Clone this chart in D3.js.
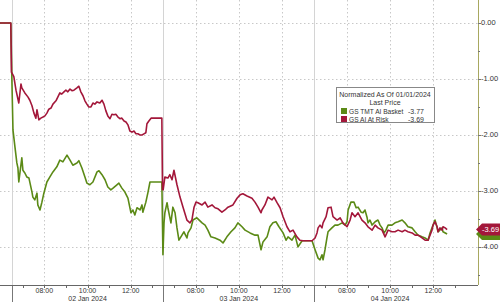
<!DOCTYPE html>
<html>
<head>
<meta charset="utf-8">
<script src="https://d3js.org/d3.v7.min.js"></script>
<style>
  body { margin: 0; background: #fff; }
  svg { display: block; font-family: "Liberation Sans", Arial, sans-serif; }
</style>
</head>
<body>
<svg id="chart" width="500" height="302"></svg>
<script>
// x values are trading hours counted from 02 Jan 06:30, each session 7 hours long
const days = ["02 Jan 2024", "03 Jan 2024", "04 Jan 2024"];
const timeLabels = ["08:00", "10:00", "12:00"];
const sessionStart = 6.5;
const sessionLength = 7;
const yTicks = [0, -1, -2, -3, -4];

const seriesNames = ["GS TMT AI Basket", "GS AI At Risk"];
const lastValues = [-3.77, -3.69];
const colors = ["#5b8a16", "#a3173a"];

const basketT = [-0.55, -0.05, 0.0, 0.05, 0.14, 0.23, 0.28, 0.32, 0.46, 0.51, 0.60, 0.69, 0.79, 0.93, 0.97, 1.06, 1.16, 1.20, 1.30, 1.39, 1.48, 1.62, 1.76, 1.90, 2.08, 2.22, 2.36, 2.55, 2.69, 2.82, 3.01, 3.10, 3.24, 3.38, 3.47, 3.61, 3.75, 3.94, 4.03, 4.17, 4.31, 4.44, 4.58, 4.68, 4.86, 4.95, 5.09, 5.23, 5.37, 5.51, 5.60, 5.69, 5.79, 5.93, 6.02, 6.06, 6.20, 6.30, 6.39, 6.94,
  6.99, 7.04, 7.08, 7.18, 7.22, 7.36, 7.45, 7.55, 7.64, 7.73, 7.87, 7.96, 8.10, 8.15, 8.29, 8.38, 8.56, 8.80, 8.94, 9.07, 9.21, 9.40, 9.63, 9.77, 9.95, 10.14, 10.32, 10.46, 10.65, 10.79, 11.02, 11.25, 11.39, 11.53, 11.62, 11.81, 11.94, 12.08, 12.22, 12.36, 12.55, 12.69, 12.78, 12.96, 13.10, 13.24, 13.43, 13.89,
  14.03, 14.17, 14.26, 14.35, 14.40, 14.49, 14.58, 14.63, 14.81, 14.95, 15.09, 15.28, 15.42, 15.51, 15.56, 15.69, 15.83, 15.93, 16.02, 16.16, 16.25, 16.34, 16.44, 16.48, 16.57, 16.67, 16.81, 16.94, 17.04, 17.13, 17.22, 17.31, 17.41, 17.59, 17.73, 17.87, 18.06, 18.19, 18.33, 18.52, 18.66, 18.80, 18.98, 19.12, 19.26, 19.35, 19.49, 19.58, 19.68, 19.72, 19.91, 19.95, 20.14];
const basketV = [0, 0, -1.02, -1.91, -2.21, -2.50, -2.59, -2.84, -2.41, -2.63, -2.68, -2.75, -2.77, -3.02, -3.11, -3.16, -3.04, -3.25, -3.34, -3.20, -3.04, -2.84, -2.75, -2.66, -2.57, -2.45, -2.48, -2.36, -2.45, -2.54, -2.50, -2.46, -2.59, -2.75, -2.86, -2.89, -2.84, -2.66, -2.64, -2.71, -2.80, -2.93, -2.98, -2.95, -2.89, -2.86, -2.95, -3.02, -3.13, -3.39, -3.34, -3.43, -3.30, -3.34, -3.25, -3.38, -3.20, -3.02, -2.84, -2.84,
  -4.14, -3.57, -3.39, -3.21, -3.30, -3.57, -3.29, -3.39, -3.66, -3.88, -3.79, -3.73, -3.84, -3.75, -3.66, -3.52, -3.48, -3.57, -3.61, -3.70, -3.82, -3.84, -3.88, -3.93, -3.82, -3.73, -3.66, -3.57, -3.64, -3.70, -3.75, -3.79, -3.79, -4.05, -3.91, -3.82, -3.64, -3.57, -3.55, -3.64, -3.75, -3.88, -3.82, -3.88, -3.79, -4.00, -3.89, -3.89,
  -4.05, -4.20, -4.23, -4.14, -4.23, -4.05, -3.84, -3.73, -3.66, -3.61, -3.61, -3.57, -3.61, -3.55, -3.34, -3.20, -3.20, -3.30, -3.29, -3.38, -3.39, -3.34, -3.48, -3.57, -3.52, -3.61, -3.55, -3.52, -3.61, -3.66, -3.75, -3.70, -3.61, -3.61, -3.57, -3.55, -3.52, -3.57, -3.64, -3.66, -3.73, -3.79, -3.82, -3.84, -3.88, -3.75, -3.61, -3.52, -3.66, -3.73, -3.66, -3.73, -3.77];

const riskT = [-0.55, -0.05, -0.02, 0.0, 0.09, 0.19, 0.32, 0.42, 0.46, 0.60, 0.74, 0.83, 0.93, 1.02, 1.11, 1.16, 1.25, 1.34, 1.44, 1.53, 1.62, 1.71, 1.81, 1.90, 2.04, 2.13, 2.22, 2.31, 2.41, 2.50, 2.59, 2.69, 2.78, 2.87, 3.01, 3.10, 3.19, 3.29, 3.38, 3.47, 3.56, 3.66, 3.75, 3.84, 3.94, 4.07, 4.17, 4.26, 4.35, 4.44, 4.54, 4.63, 4.72, 4.81, 4.91, 5.00, 5.09, 5.19, 5.28, 5.37, 5.46, 5.56, 5.65, 5.74, 5.83, 5.93, 6.02, 6.11, 6.20, 6.25, 6.34, 6.44, 6.94,
  6.97, 7.0, 7.08, 7.22, 7.31, 7.41, 7.50, 7.64, 7.78, 7.92, 8.10, 8.24, 8.33, 8.43, 8.52, 8.61, 8.80, 8.94, 9.07, 9.26, 9.40, 9.54, 9.72, 9.86, 10.0, 10.23, 10.42, 10.56, 10.69, 10.88, 11.11, 11.25, 11.39, 11.53, 11.57, 11.71, 11.85, 12.04, 12.13, 12.27, 12.41, 12.55, 12.73, 12.87, 13.01, 13.19, 13.33, 13.47, 13.89,
  14.03, 14.12, 14.17, 14.26, 14.35, 14.40, 14.54, 14.63, 14.77, 14.86, 15.05, 15.19, 15.32, 15.51, 15.65, 15.74, 15.88, 16.02, 16.20, 16.34, 16.48, 16.67, 16.81, 16.94, 17.13, 17.27, 17.41, 17.59, 17.73, 17.87, 18.06, 18.19, 18.33, 18.52, 18.66, 18.80, 18.98, 19.12, 19.26, 19.35, 19.44, 19.49, 19.58, 19.68, 19.72, 19.81, 19.91, 19.95, 20.05, 20.14];
const riskV = [0, 0, -0.88, -0.89, -0.96, -1.20, -1.43, -1.09, -1.16, -1.25, -1.32, -1.38, -1.48, -1.61, -1.70, -1.55, -1.73, -1.70, -1.68, -1.66, -1.61, -1.54, -1.52, -1.45, -1.39, -1.32, -1.25, -1.27, -1.23, -1.20, -1.23, -1.18, -1.21, -1.20, -1.16, -1.13, -1.23, -1.30, -1.39, -1.45, -1.50, -1.50, -1.43, -1.45, -1.41, -1.43, -1.38, -1.45, -1.57, -1.66, -1.71, -1.63, -1.64, -1.63, -1.68, -1.71, -1.70, -1.75, -1.77, -1.82, -1.93, -1.95, -1.93, -1.98, -1.98, -2.00, -2.00, -1.98, -1.96, -1.80, -1.75, -1.70, -1.70,
  -2.98, -2.98, -2.75, -2.77, -2.71, -2.80, -2.63, -2.89, -3.11, -3.29, -3.52, -3.57, -3.52, -3.29, -3.20, -3.21, -3.25, -3.20, -3.29, -3.25, -3.30, -3.32, -3.38, -3.34, -3.29, -3.25, -3.13, -3.07, -3.05, -3.09, -3.13, -3.20, -3.29, -3.39, -3.34, -3.25, -3.11, -3.16, -3.11, -3.21, -3.30, -3.46, -3.64, -3.73, -3.70, -3.82, -3.88, -3.89, -3.89,
  -3.84, -3.75, -3.66, -3.61, -3.66, -3.57, -3.46, -3.30, -3.29, -3.46, -3.52, -3.48, -3.57, -3.64, -3.52, -3.39, -3.46, -3.39, -3.52, -3.57, -3.64, -3.70, -3.61, -3.66, -3.70, -3.82, -3.70, -3.73, -3.73, -3.70, -3.73, -3.70, -3.73, -3.75, -3.79, -3.79, -3.84, -3.88, -3.88, -3.79, -3.70, -3.61, -3.55, -3.64, -3.73, -3.66, -3.70, -3.64, -3.66, -3.69];

const width = 500, height = 302;
const plotBottom = 285, axisX = 478;
const svg = d3.select("#chart");
const fmt = v => d3.format(".2f")(v).replace("\u2212", "-");

const x = d3.scaleLinear().domain([-0.55, 21.57]).range([0, axisX]);
const y = d3.scaleLinear().domain([0.41, -4.68]).range([0, plotBottom]);

// horizontal dotted grid
svg.append("g").selectAll("line").data(yTicks).join("line")
  .attr("x1", 0).attr("x2", axisX)
  .attr("y1", d => Math.round(y(d)) + 0.5).attr("y2", d => Math.round(y(d)) + 0.5)
  .attr("stroke", "#c8c8c8").attr("stroke-dasharray", "1.5,2.5");

// vertical dotted grid at labelled times
const labelTicks = [];
days.forEach((day, i) => {
  timeLabels.forEach(lbl => {
    const h = +lbl.slice(0, 2);
    labelTicks.push({ t: i * sessionLength + (h - sessionStart), lbl: lbl });
  });
});
svg.append("g").selectAll("line").data(labelTicks).join("line")
  .attr("x1", d => Math.round(x(d.t)) + 0.5).attr("x2", d => Math.round(x(d.t)) + 0.5)
  .attr("y1", 0).attr("y2", plotBottom)
  .attr("stroke", "#c8c8c8").attr("stroke-dasharray", "1.5,2.5");

// day separators
const dayStarts = days.map((d, i) => i * sessionLength);
svg.append("g").selectAll("line").data(dayStarts).join("line")
  .attr("x1", d => Math.round(x(d)) + 0.5).attr("x2", d => Math.round(x(d)) + 0.5)
  .attr("y1", 0).attr("y2", plotBottom)
  .attr("stroke", "#d4d4d4");
svg.append("g").selectAll("line").data(dayStarts).join("line")
  .attr("x1", d => Math.round(x(d)) + 0.5).attr("x2", d => Math.round(x(d)) + 0.5)
  .attr("y1", plotBottom).attr("y2", height)
  .attr("stroke", "#777");

// series lines
const line = d3.line().x(d => x(d[0])).y(d => y(d[1]));
const seriesData = [
  d3.zip(basketT, basketV),
  d3.zip(riskT, riskV)
];
seriesData.forEach((pts, i) => {
  svg.append("path").datum(pts)
    .attr("d", line)
    .attr("fill", "none")
    .attr("stroke", colors[i])
    .attr("stroke-width", 1.6)
    .attr("stroke-linejoin", "round");
});

// bottom axis line and hourly ticks
svg.append("line").attr("x1", 0).attr("x2", axisX)
  .attr("y1", plotBottom + 0.5).attr("y2", plotBottom + 0.5)
  .attr("stroke", "#666");
const hourTicks = d3.range(0.5, sessionLength * days.length, 1);
svg.append("g").selectAll("line").data(hourTicks).join("line")
  .attr("x1", d => Math.round(x(d)) + 0.5).attr("x2", d => Math.round(x(d)) + 0.5)
  .attr("y1", plotBottom).attr("y2", plotBottom + 3)
  .attr("stroke", "#666");

svg.append("g").selectAll("text").data(labelTicks).join("text")
  .attr("x", d => x(d.t)).attr("y", 293)
  .attr("text-anchor", "middle")
  .attr("font-size", 7).attr("fill", "#333")
  .text(d => d.lbl);
svg.append("g").selectAll("text").data(days).join("text")
  .attr("x", (d, i) => x(i * sessionLength + 3.5)).attr("y", 301)
  .attr("text-anchor", "middle")
  .attr("font-size", 7).attr("fill", "#333")
  .text(d => d);

// right axis
svg.append("line").attr("x1", axisX + 0.5).attr("x2", axisX + 0.5)
  .attr("y1", 0).attr("y2", plotBottom)
  .attr("stroke", "#a8a860");
const minorY = d3.range(0.5, -4.6, -0.5);
svg.append("g").selectAll("line").data(minorY).join("line")
  .attr("x1", axisX).attr("x2", d => axisX + (Number.isInteger(d) ? 3 : 2))
  .attr("y1", d => Math.round(y(d)) + 0.5).attr("y2", d => Math.round(y(d)) + 0.5)
  .attr("stroke", "#777");
svg.append("g").selectAll("text").data(yTicks).join("text")
  .attr("x", axisX + 3).attr("y", d => y(d) + 2.5)
  .attr("font-size", 7.5).attr("fill", "#333")
  .text(d => fmt(d));

// last value tags: basket tag sits under the risk tag, only the top one's label shows
[0, 1].forEach(i => {
  const cy = y(lastValues[i]);
  const h = 12;
  svg.append("path")
    .attr("d", `M${axisX - 2},${cy} L${axisX + 4},${cy - h / 2} L${width},${cy - h / 2} L${width},${cy + h / 2} L${axisX + 4},${cy + h / 2} Z`)
    .attr("fill", colors[i]);
});
svg.append("text")
  .attr("x", axisX + 4).attr("y", y(lastValues[1]) + 2.5)
  .attr("font-size", 7.5).attr("fill", "#fff")
  .text(fmt(lastValues[1]));

// legend
const lg = svg.append("g").attr("transform", "translate(336,87)");
lg.append("rect").attr("x", 0.5).attr("y", 0.5).attr("width", 98).attr("height", 35)
  .attr("fill", "#fff").attr("stroke", "#888");
lg.append("text").attr("x", 49).attr("y", 10).attr("text-anchor", "middle")
  .attr("font-size", 7).attr("fill", "#333").text("Normalized As Of 01/01/2024");
lg.append("text").attr("x", 49).attr("y", 18).attr("text-anchor", "middle")
  .attr("font-size", 7).attr("fill", "#333").text("Last Price");
seriesNames.forEach((name, i) => {
  const yy = 21 + i * 8;
  lg.append("rect").attr("x", 5).attr("y", yy).attr("width", 6).attr("height", 6).attr("fill", colors[i]);
  lg.append("text").attr("x", 13).attr("y", yy + 6).attr("font-size", 6.6).attr("fill", "#333").text(name);
  lg.append("text").attr("x", 72).attr("y", yy + 6).attr("font-size", 7).attr("fill", "#333")
    .text(fmt(lastValues[i]));
});
</script>
</body>
</html>
